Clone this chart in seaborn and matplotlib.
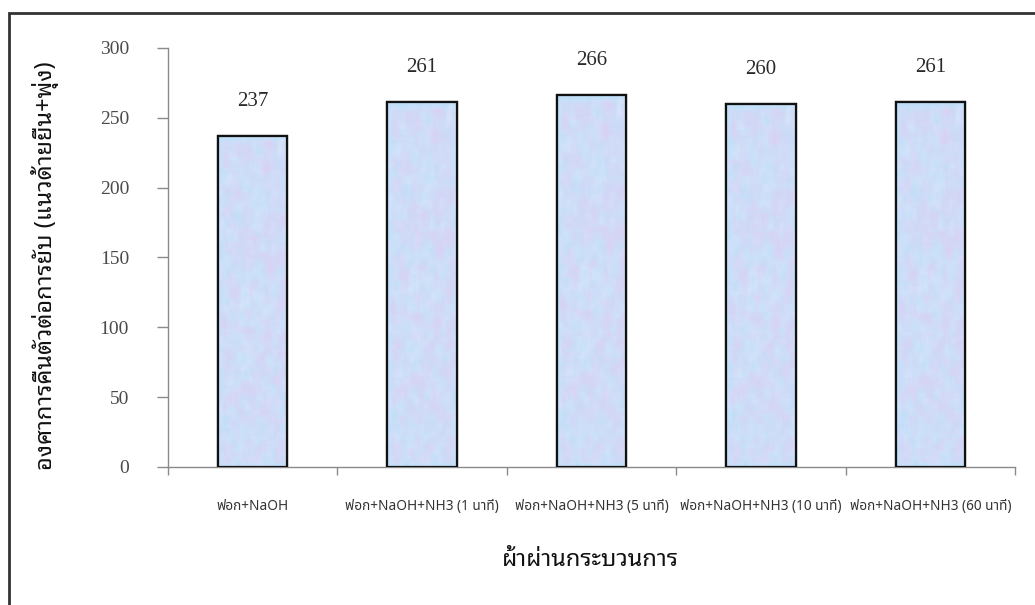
import numpy as np
import pandas as pd
import matplotlib
matplotlib.use("Agg")
import matplotlib.pyplot as plt
from matplotlib.patches import Rectangle
from matplotlib.ticker import FixedLocator
import seaborn as sns

# Wrinkle recovery angle (warp + weft) for each treatment
treatments = [
    "ฟอก+NaOH",
    "ฟอก+NaOH+NH3 (1 นาที)",
    "ฟอก+NaOH+NH3 (5 นาที)",
    "ฟอก+NaOH+NH3 (10 นาที)",
    "ฟอก+NaOH+NH3 (60 นาที)",
]
recovery_angle = [237, 261, 266, 260, 261]
y_ticks = [0, 50, 100, 150, 200, 250, 300]

y_label = "องศาการคืนตัวต่อการยับ (แนวด้ายยืน+พุ่ง)"
x_label = "ผ้าผ่านกระบวนการ"

sns.set_theme(style="white")
thai = ["Noto Sans Thai Looped", "DejaVu Sans"]
thai_small = ["Noto Sans Thai", "DejaVu Sans"]
serif = ["Liberation Serif", "DejaVu Serif"]
plt.rcParams["font.family"] = thai

df = pd.DataFrame({"treatment": treatments, "angle": recovery_angle})

fig = plt.figure(figsize=(10.35, 6.05), dpi=100)
ax = fig.add_axes([0.1623, 0.2281, 0.9807 - 0.1623, 0.9207 - 0.2281])

sns.barplot(data=df, x="treatment", y="angle", color="#c4d8f4",
            width=0.41, edgecolor="#111111", linewidth=1.6,
            saturation=1, ax=ax, zorder=3)


def smooth(a, n):
    k = np.ones(n) / n
    a = np.apply_along_axis(lambda r: np.convolve(r, k, mode="same"), 1, a)
    return np.apply_along_axis(lambda c: np.convolve(c, k, mode="same"), 0, a)


# mottled tissue-paper texture inside each bar
rng = np.random.default_rng(11)
base = smooth(rng.random((160, 50)), 4)
spots = smooth(rng.random((160, 50)), 6)
base = (base - base.min()) / (base.max() - base.min())
spots = (spots - spots.min()) / (spots.max() - spots.min())
blue = np.array([0.72, 0.86, 0.97])
pale = np.array([0.85, 0.90, 0.98])
lav = np.array([0.85, 0.82, 0.96])
tex = blue[None, None, :] * (1 - base[..., None]) + pale[None, None, :] * base[..., None]
mix = np.clip((spots - 0.55) * 2.5, 0, 1)[..., None]
tex = tex * (1 - mix) + lav[None, None, :] * mix

for bar in list(ax.patches):
    x0, y0 = bar.get_x(), bar.get_y()
    w, h = bar.get_width(), bar.get_height()
    im = ax.imshow(tex, extent=(x0, x0 + w, y0, y0 + h), aspect="auto",
                   interpolation="bilinear", zorder=3.5)
    im.set_clip_path(bar)
    ax.add_patch(Rectangle((x0, y0), w, h, fill=False, edgecolor="#111111",
                           linewidth=1.6, zorder=4))

ax.set_xlim(-0.5, 4.5)
ax.set_ylim(0, 300)
ax.set_yticks(y_ticks)
ax.set_yticklabels([str(t) for t in y_ticks], family=serif, fontsize=14,
                   color="#4a4a4a")
ax.tick_params(axis="y", which="major", direction="out", length=8, width=1,
               color="#8a8a8a", pad=20, left=True)

# category labels without ticks; boundary ticks below the axis
ax.set_xticks(range(len(treatments)))
ax.set_xticklabels(treatments, family=thai_small, fontsize=9.8,
                   color="#333333")
ax.tick_params(axis="x", which="major", length=0, pad=23)
ax.xaxis.set_minor_locator(FixedLocator(np.arange(-0.5, 4.6, 1.0)))
ax.tick_params(axis="x", which="minor", direction="out", length=6, width=1,
               color="#8a8a8a", bottom=True)

for side in ("top", "right"):
    ax.spines[side].set_visible(False)
for side in ("left", "bottom"):
    ax.spines[side].set_color("#8a8a8a")
    ax.spines[side].set_linewidth(1.0)

ax.set_xlabel("")
ax.set_ylabel("")

# value labels above the bars
for i, v in enumerate(recovery_angle):
    ax.annotate(str(v), (i, v), xytext=(0, 18), textcoords="offset points",
                ha="center", va="bottom", family=serif, fontsize=15,
                color="#2a2a2a")

fig.text(45 / 1035, 1 - 266 / 605, y_label, rotation=90, ha="center",
         va="center", fontsize=17, fontweight="bold", color="#111111",
         family=thai)
fig.text(590 / 1035, 1 - 560 / 605, x_label, ha="center", va="center",
         fontsize=17, fontweight="bold", color="#111111", family=thai)

# outer frame around the chart area
frame = Rectangle((9 / 1035, -0.2), 1.2, 0.2 + (1 - 13 / 605),
                  transform=fig.transFigure, fill=False,
                  edgecolor="#333333", linewidth=2.0, zorder=10)
fig.patches.append(frame)

fig.savefig("out.png", dpi=100, facecolor="white")
